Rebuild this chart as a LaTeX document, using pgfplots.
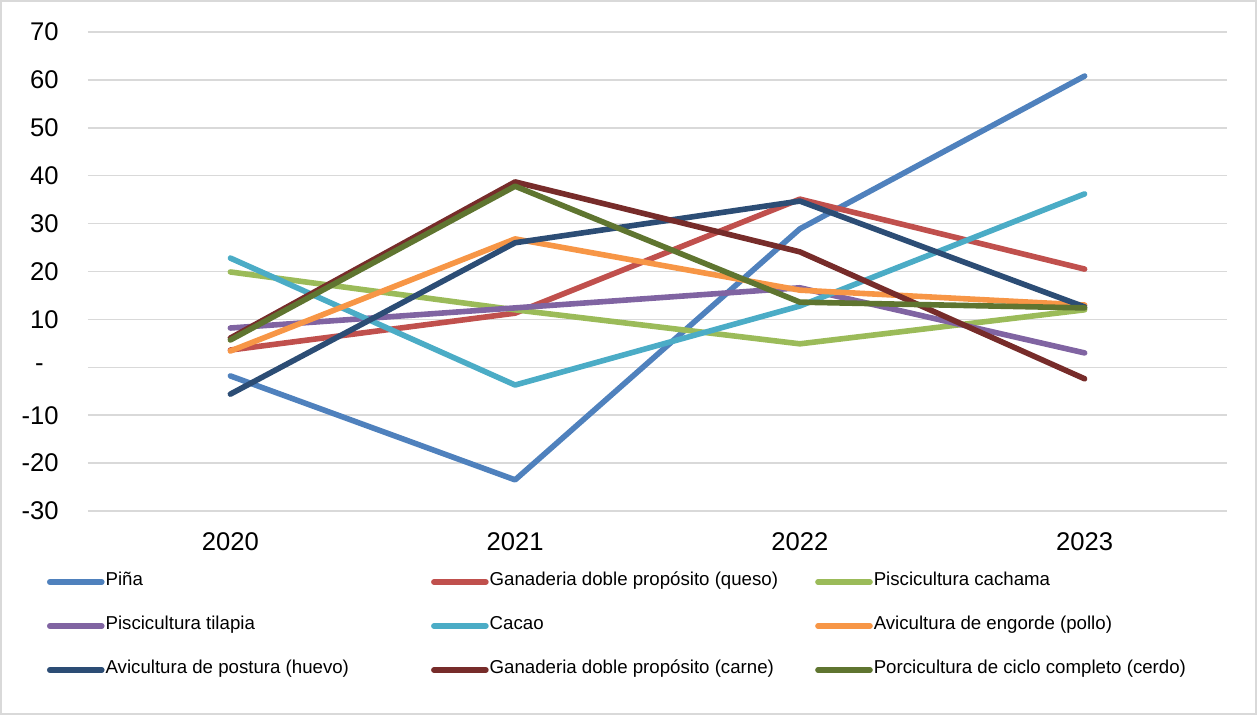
\documentclass[border=0pt]{standalone}
\usepackage{fontspec}
\setmainfont{Liberation Sans}
\usepackage{pgfplots}
\pgfplotsset{compat=1.18}
\definecolor{c1}{HTML}{4F81BD}
\definecolor{c2}{HTML}{C0504D}
\definecolor{c3}{HTML}{9BBB59}
\definecolor{c4}{HTML}{8064A2}
\definecolor{c5}{HTML}{4BACC6}
\definecolor{c6}{HTML}{F79646}
\definecolor{c7}{HTML}{2C4D75}
\definecolor{c8}{HTML}{772C2A}
\definecolor{c9}{HTML}{5F7530}
\definecolor{gridc}{HTML}{D9D9D9}
\newcommand{\lb}[1]{\makebox[162.25pt][l]{#1}}
\begin{document}
\begin{tikzpicture}
\useasboundingbox (-44pt,-102pt) rectangle (584.5pt,255.5pt);
\draw[gridc, line width=0.6pt] (-43.5pt,-101.5pt) rectangle (584pt,255pt);
\begin{axis}[
  at={(0pt,0pt)}, anchor=south west,
  scale only axis, width=569.5pt, height=239.5pt,
  xmin=-0.5, xmax=3.5, ymin=-30, ymax=70,
  xtick={0,1,2,3}, xticklabels={2020,2021,2022,2023},
  ytick={-30,-20,...,70}, yticklabels={-30,-20,-10,{-\hspace*{7.5pt}},10,20,30,40,50,60,70},
  axis line style={draw=none}, major tick length=0pt,
  ymajorgrids, grid style={gridc, line width=0.75pt},
  tick label style={font=\fontsize{12.8}{14}\selectfont, text=black},
  xticklabel style={yshift=-7.4pt},
  yticklabel style={xshift=-11.2pt},
  every axis plot/.append style={line width=2.8pt, line cap=round, line join=round, mark=none},
  legend columns=3,
  legend cell align=left,
  legend image code/.code={\draw[#1, line width=2.8pt, line cap=round] (0pt,0pt) -- (26pt,0pt);},
  legend style={at={(axis description cs:0,0)}, anchor=north west, xshift=-20.5pt, yshift=-31.5pt,
    draw=none, fill=none, inner sep=0pt, outer sep=0pt,
    font=\fontsize{9.33}{11}\selectfont, row sep=14pt, column sep=0pt,
    nodes={inner xsep=0.5pt, inner ysep=0pt, text height=6pt, text depth=2pt}},
]
\addplot[c1] coordinates {(0,-1.8) (1,-23.5) (2,28.9) (3,60.8)};
\addlegendentry{\lb{Piña}}
\addplot[c2] coordinates {(0,3.6) (1,11.3) (2,35.1) (3,20.5)};
\addlegendentry{\lb{Ganaderia doble propósito (queso)}}
\addplot[c3] coordinates {(0,19.9) (1,12.0) (2,4.9) (3,12.0)};
\addlegendentry{\lb{Piscicultura cachama}}
\addplot[c4] coordinates {(0,8.2) (1,12.4) (2,16.6) (3,3.0)};
\addlegendentry{\lb{Piscicultura tilapia}}
\addplot[c5] coordinates {(0,22.8) (1,-3.7) (2,12.8) (3,36.2)};
\addlegendentry{\lb{Cacao}}
\addplot[c6] coordinates {(0,3.4) (1,26.8) (2,16.1) (3,13.0)};
\addlegendentry{\lb{Avicultura de engorde (pollo)}}
\addplot[c7] coordinates {(0,-5.6) (1,26.0) (2,34.7) (3,12.6)};
\addlegendentry{\lb{Avicultura de postura (huevo)}}
\addplot[c8] coordinates {(0,6.1) (1,38.7) (2,24.1) (3,-2.4)};
\addlegendentry{\lb{Ganaderia doble propósito (carne)}}
\addplot[c9] coordinates {(0,5.7) (1,37.8) (2,13.6) (3,12.4)};
\addlegendentry{\lb{Porcicultura de ciclo completo (cerdo)}}
\end{axis}
\end{tikzpicture}
\end{document}
